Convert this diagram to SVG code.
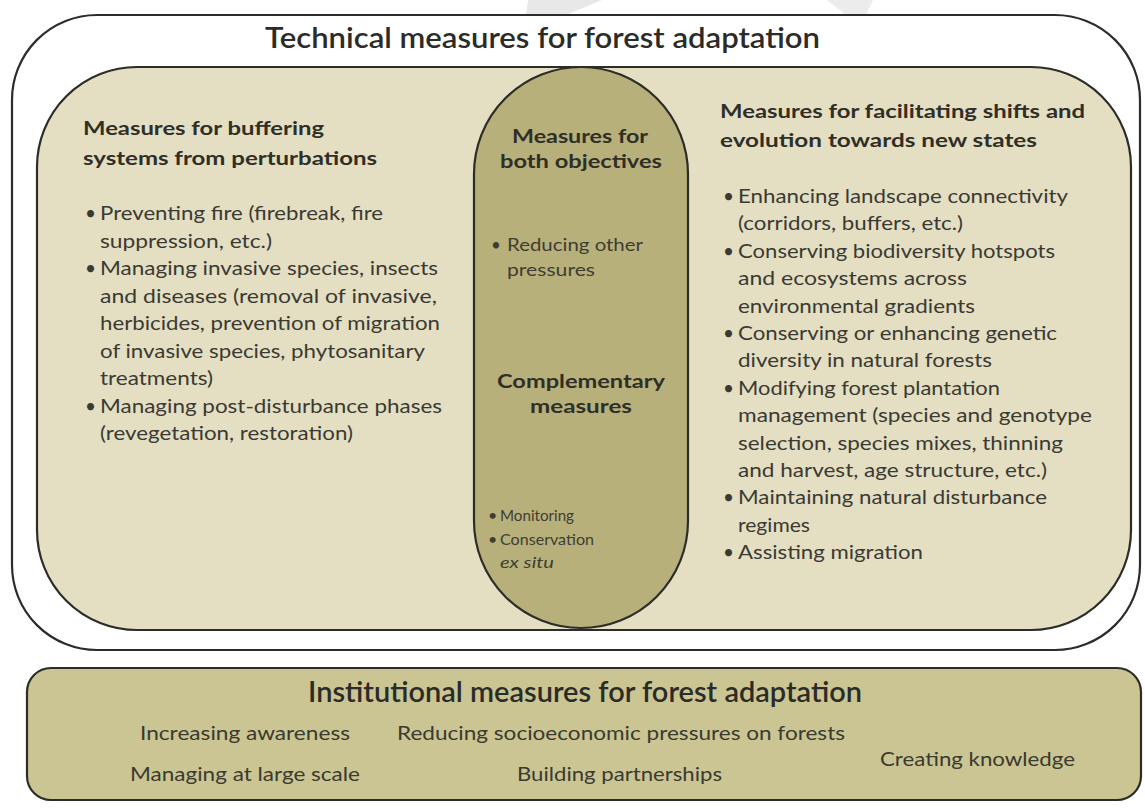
<svg xmlns="http://www.w3.org/2000/svg" width="1145" height="808" viewBox="0 0 1145 808">
<style>
text{font-family:Lato,"Open Sans","Liberation Sans",sans-serif}
.t{font-size:28px;font-weight:600;fill:#2b2b28}
.h{font-size:19px;font-weight:700;fill:#2f2f27}
.b{font-size:19px;fill:#3a3a32}
.s{font-size:17px;fill:#3e3d32}
.m{font-size:16px;fill:#3e3d32}
.i{font-size:19px;fill:#3a3a30}
.box{stroke:#2c2c28;stroke-width:2.2}
</style>
<rect width="1145" height="808" fill="#ffffff"/>
<polygon points="528,0 602,0 566,15 526,15" fill="#e8e8e8"/>
<polygon points="827,0 873,0 866,15 846,15" fill="#ececec"/>
<g id="technical-measures">
<rect class="box" x="12" y="15" width="1128" height="635" rx="85" fill="#ffffff"/>
<text class="t" x="265" y="48" textLength="555" lengthAdjust="spacingAndGlyphs">Technical measures for forest adaptation</text>
</g>
<g id="adaptation-area">
<rect class="box" x="37" y="67" width="1094" height="563" rx="100" fill="#e4dec3"/>
</g>
<g id="buffering">
<text class="h" x="83" y="135" textLength="241" lengthAdjust="spacingAndGlyphs">Measures for buffering</text>
<text class="h" x="83" y="165" textLength="294" lengthAdjust="spacingAndGlyphs">systems from perturbations</text>
<text class="b" x="85" y="220">•</text>
<text class="b" x="85" y="275">•</text>
<text class="b" x="85" y="412.5">•</text>
<text class="b" x="100" y="220" textLength="283" lengthAdjust="spacingAndGlyphs">Preventing fire (firebreak, fire</text>
<text class="b" x="100" y="247.5" textLength="172" lengthAdjust="spacingAndGlyphs">suppression, etc.)</text>
<text class="b" x="100" y="275" textLength="338" lengthAdjust="spacingAndGlyphs">Managing invasive species, insects</text>
<text class="b" x="100" y="302.5" textLength="337" lengthAdjust="spacingAndGlyphs">and diseases (removal of invasive,</text>
<text class="b" x="100" y="330" textLength="340" lengthAdjust="spacingAndGlyphs">herbicides, prevention of migration</text>
<text class="b" x="100" y="357.5" textLength="325" lengthAdjust="spacingAndGlyphs">of invasive species, phytosanitary</text>
<text class="b" x="100" y="385" textLength="113" lengthAdjust="spacingAndGlyphs">treatments)</text>
<text class="b" x="100" y="412.5" textLength="342" lengthAdjust="spacingAndGlyphs">Managing post-disturbance phases</text>
<text class="b" x="100" y="440" textLength="253" lengthAdjust="spacingAndGlyphs">(revegetation, restoration)</text>
</g>
<g id="both-objectives">
<rect class="box" x="474" y="67" width="214" height="561" rx="107" fill="#b8b07b"/>
<text class="h" x="512" y="143" textLength="136" lengthAdjust="spacingAndGlyphs">Measures for</text>
<text class="h" x="500" y="168" textLength="162" lengthAdjust="spacingAndGlyphs">both objectives</text>
<text class="s" x="491" y="251">•</text>
<text class="s" x="507" y="251" textLength="136" lengthAdjust="spacingAndGlyphs">Reducing other</text>
<text class="s" x="507" y="276" textLength="88" lengthAdjust="spacingAndGlyphs">pressures</text>
<text class="h" x="497" y="388" textLength="168" lengthAdjust="spacingAndGlyphs">Complementary</text>
<text class="h" x="530" y="413" textLength="102" lengthAdjust="spacingAndGlyphs">measures</text>
<text class="m" x="488" y="521">•</text>
<text class="m" x="488" y="545">•</text>
<text class="m" x="500" y="521" textLength="74" lengthAdjust="spacingAndGlyphs">Monitoring</text>
<text class="m" x="500" y="545" textLength="94" lengthAdjust="spacingAndGlyphs">Conservation</text>
<text class="m" x="500" y="568" textLength="54" lengthAdjust="spacingAndGlyphs" font-style="italic">ex situ</text>
</g>
<g id="facilitating">
<text class="h" x="720" y="118" textLength="365" lengthAdjust="spacingAndGlyphs">Measures for facilitating shifts and</text>
<text class="h" x="720" y="147" textLength="317" lengthAdjust="spacingAndGlyphs">evolution towards new states</text>
<text class="b" x="723" y="203">•</text>
<text class="b" x="723" y="257.8">•</text>
<text class="b" x="723" y="340">•</text>
<text class="b" x="723" y="394.8">•</text>
<text class="b" x="723" y="504.4">•</text>
<text class="b" x="723" y="559.2">•</text>
<text class="b" x="738" y="203" textLength="330" lengthAdjust="spacingAndGlyphs">Enhancing landscape connectivity</text>
<text class="b" x="738" y="230.4" textLength="225" lengthAdjust="spacingAndGlyphs">(corridors, buffers, etc.)</text>
<text class="b" x="738" y="257.8" textLength="317" lengthAdjust="spacingAndGlyphs">Conserving biodiversity hotspots</text>
<text class="b" x="738" y="285.2" textLength="229" lengthAdjust="spacingAndGlyphs">and ecosystems across</text>
<text class="b" x="738" y="312.6" textLength="237" lengthAdjust="spacingAndGlyphs">environmental gradients</text>
<text class="b" x="738" y="340" textLength="319" lengthAdjust="spacingAndGlyphs">Conserving or enhancing genetic</text>
<text class="b" x="738" y="367.4" textLength="254" lengthAdjust="spacingAndGlyphs">diversity in natural forests</text>
<text class="b" x="738" y="394.8" textLength="262" lengthAdjust="spacingAndGlyphs">Modifying forest plantation</text>
<text class="b" x="738" y="422.2" textLength="354" lengthAdjust="spacingAndGlyphs">management (species and genotype</text>
<text class="b" x="738" y="449.6" textLength="325" lengthAdjust="spacingAndGlyphs">selection, species mixes, thinning</text>
<text class="b" x="738" y="477" textLength="309" lengthAdjust="spacingAndGlyphs">and harvest, age structure, etc.)</text>
<text class="b" x="738" y="504.4" textLength="309" lengthAdjust="spacingAndGlyphs">Maintaining natural disturbance</text>
<text class="b" x="738" y="531.8" textLength="72" lengthAdjust="spacingAndGlyphs">regimes</text>
<text class="b" x="738" y="559.2" textLength="185" lengthAdjust="spacingAndGlyphs">Assisting migration</text>
</g>
<g id="institutional-measures">
<rect class="box" x="27" y="668" width="1114" height="132" rx="24" fill="#cbc593"/>
<text class="t" x="308" y="702" textLength="554" lengthAdjust="spacingAndGlyphs">Institutional measures for forest adaptation</text>
<text class="i" x="140" y="740" textLength="210" lengthAdjust="spacingAndGlyphs">Increasing awareness</text>
<text class="i" x="397" y="740" textLength="448" lengthAdjust="spacingAndGlyphs">Reducing socioeconomic pressures on forests</text>
<text class="i" x="880" y="766" textLength="195" lengthAdjust="spacingAndGlyphs">Creating knowledge</text>
<text class="i" x="130" y="781" textLength="230" lengthAdjust="spacingAndGlyphs">Managing at large scale</text>
<text class="i" x="517" y="781" textLength="205" lengthAdjust="spacingAndGlyphs">Building partnerships</text>
</g>
<g id="connectors"/>
</svg>
